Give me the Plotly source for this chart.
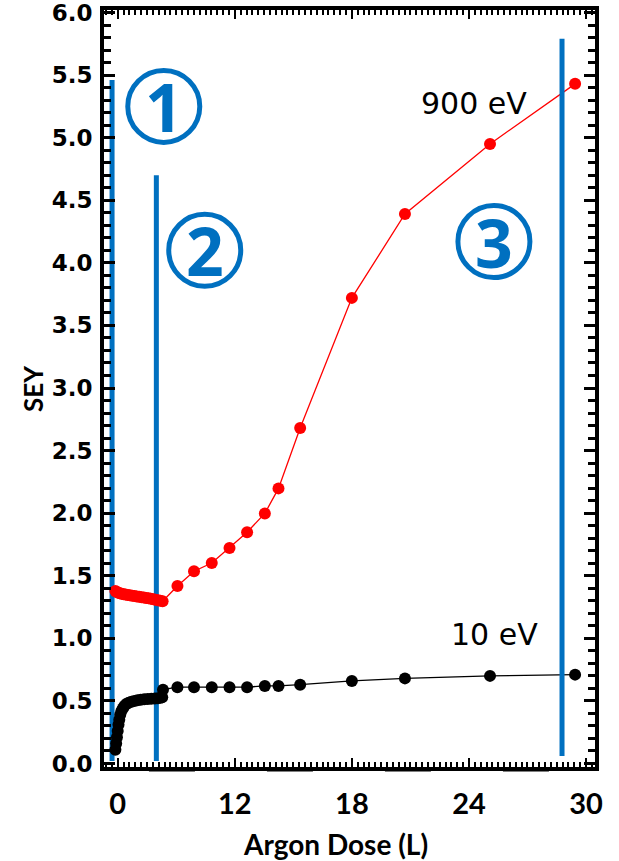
import plotly.graph_objects as go

# Axis positions of the dose samples (the "0" label sits at position 6)
red_x = [5.88, 5.95, 6.03, 6.11, 6.20, 6.30, 6.40, 6.51, 6.62, 6.74, 6.86, 6.98,
         7.10, 7.22, 7.34, 7.46, 7.58, 7.70, 7.82, 7.94, 8.06, 8.18, 8.30,
         9.06, 9.91, 10.82, 11.73, 12.63, 13.54, 14.24, 15.35, 18.00, 20.72, 25.08, 29.44]
red_sey = [1.378, 1.371, 1.365, 1.360, 1.356, 1.353, 1.350, 1.347, 1.344, 1.341, 1.338, 1.335,
           1.332, 1.329, 1.326, 1.323, 1.320, 1.316, 1.312, 1.308, 1.304, 1.300, 1.296,
           1.418, 1.536, 1.602, 1.722, 1.848, 1.998, 2.198, 2.68, 3.72, 4.39, 4.95, 5.43]

black_x = [5.88, 5.92, 5.96, 6.00, 6.04, 6.08, 6.13, 6.19, 6.26, 6.34, 6.44, 6.56,
           6.70, 6.85, 7.01, 7.18, 7.36, 7.54, 7.72, 7.90, 8.06, 8.20, 8.28, 8.32,
           9.06, 9.91, 10.82, 11.73, 12.63, 13.54, 14.24, 15.35, 18.00, 20.72, 25.08, 29.44]
black_sey = [0.11, 0.16, 0.21, 0.26, 0.31, 0.35, 0.39, 0.42, 0.44, 0.46, 0.475, 0.485,
             0.493, 0.50, 0.505, 0.51, 0.513, 0.516, 0.518, 0.52, 0.522, 0.525, 0.53, 0.59,
             0.61, 0.61, 0.61, 0.61, 0.61, 0.62, 0.62, 0.63, 0.66, 0.68, 0.70, 0.71]

# Region boundaries
bound_x = [5.71, 7.98, 28.77]
bound_top = [5.46, 4.70, 5.79]
bound_bottom = [0.02, 0.02, 0.06]

# Circled region numbers
region_labels = ["1", "2", "3"]
region_x = [8.36, 10.46, 25.28]
region_y = [5.25, 4.10, 4.17]

# Beam energy labels
energy_labels = ["900 eV", "10 eV"]
energy_x = [24.26, 25.33]
energy_y = [5.27, 1.03]

# Axis ticks
x_tick_pos = [6, 12, 18, 24, 30]
x_tick_text = ["0", "12", "18", "24", "30"]

BLUE = "#0070C0"

fig = go.Figure()

# connecting lines first (beneath the boundary bars)
fig.add_trace(go.Scatter(x=red_x, y=red_sey, mode="lines",
                         line=dict(color="#FF0000", width=1.3), hoverinfo="skip"))
fig.add_trace(go.Scatter(x=black_x, y=black_sey, mode="lines",
                         line=dict(color="#000000", width=1.3), hoverinfo="skip"))

for bx, bt, bb in zip(bound_x, bound_top, bound_bottom):
    fig.add_trace(go.Scatter(x=[bx, bx], y=[bb, bt], mode="lines",
                             line=dict(color=BLUE, width=5), hoverinfo="skip"))

# markers on top
fig.add_trace(go.Scatter(x=red_x, y=red_sey, mode="markers",
                         marker=dict(color="#FF0000", size=12)))
fig.add_trace(go.Scatter(x=black_x, y=black_sey, mode="markers",
                         marker=dict(color="#000000", size=12)))

for lab, cx, cy in zip(region_labels, region_x, region_y):
    fig.add_shape(type="circle", xref="x", yref="y",
                  xsizemode="pixel", ysizemode="pixel",
                  xanchor=cx, yanchor=cy, x0=-36, x1=36, y0=-36, y1=36,
                  line=dict(color=BLUE, width=5))
    fig.add_annotation(x=cx, y=cy, xref="x", yref="y", text=lab, showarrow=False,
                       xanchor="center", yanchor="middle",
                       font=dict(family="Open Sans", size=66, color=BLUE, weight="bold"))

for lab, ex, ey in zip(energy_labels, energy_x, energy_y):
    fig.add_annotation(x=ex, y=ey, xref="x", yref="y", text=lab, showarrow=False,
                       xanchor="center", yanchor="middle",
                       font=dict(family="DejaVu Sans", size=30, color="#000000"))

# dashed underline segments along the bottom axis
fig.add_shape(type="line", xref="x", yref="paper", x0=7.6, x1=28.2, y0=-0.004, y1=-0.004,
              line=dict(color="#000000", width=3, dash="46px,72px"))

# axis titles
fig.add_annotation(x=0.4725, y=-0.1017, xref="paper", yref="paper", text="Argon Dose (L)",
                   showarrow=False, xanchor="center", yanchor="middle",
                   font=dict(family="Lato", size=28, color="#000000", weight="bold"))
fig.add_annotation(x=-0.1446, y=0.4993, xref="paper", yref="paper", text="SEY",
                   showarrow=False, xanchor="center", yanchor="middle", textangle=-90,
                   font=dict(family="Lato", size=26, color="#000000", weight="bold"))

fig.update_layout(
    width=619, height=861,
    margin=dict(l=104, r=24, t=10, b=94),
    plot_bgcolor="white", paper_bgcolor="white",
    showlegend=False,
    xaxis=dict(range=[5.297, 30.46], tickmode="array", tickvals=x_tick_pos, ticktext=x_tick_text,
               ticks="inside", ticklen=9, tickwidth=2, tickcolor="black",
               minor=dict(ticks="inside", dtick=0.3, tick0=0, ticklen=5, tickwidth=1.5,
                          tickcolor="black"),
               showline=True, linewidth=4, linecolor="black", mirror="allticks",
               showgrid=False, zeroline=False, ticklabelstandoff=8, automargin=False,
               ticklabeloverflow="allow",
               tickfont=dict(family="Lato", size=29, color="black", weight="bold")),
    yaxis=dict(range=[-0.028, 6.02], tickmode="linear", tick0=0, dtick=0.5,
               tickformat=".1f",
               ticks="inside", ticklen=11, tickwidth=3, tickcolor="black",
               minor=dict(ticks="inside", dtick=0.1, tick0=0, ticklen=7, tickwidth=3,
                          tickcolor="black"),
               showline=True, linewidth=4, linecolor="black", mirror="allticks",
               showgrid=False, zeroline=False, ticklabelstandoff=3, automargin=False,
               ticklabeloverflow="allow",
               tickfont=dict(family="DejaVu Sans", size=23, color="black", weight="bold")),
)

fig.write_html("out.html")
